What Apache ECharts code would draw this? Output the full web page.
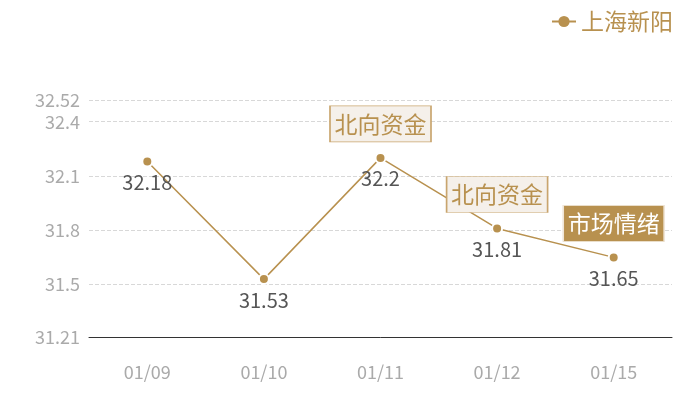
<!DOCTYPE html>
<html>
<head>
<meta charset="utf-8">
<script src="https://cdn.jsdelivr.net/npm/echarts@6/dist/echarts.min.js"></script>
<style>
  html, body { margin: 0; padding: 0; background: #fff; }
  #chart { width: 700px; height: 400px; }
</style>
</head>
<body>
<div id="chart"></div>
<script>
var dates = ['01/09', '01/10', '01/11', '01/12', '01/15'];
var prices = [32.18, 31.53, 32.2, 31.81, 31.65];
var yMin = 31.21;
var yMax = 32.52;
// event tags: [date, price, text, filled]
var tags = [
    ['01/11', 32.2, '北向资金', false],
    ['01/12', 31.81, '北向资金', false],
    ['01/15', 31.65, '市场情绪', true]
];

var gold = '#b8914f';

function tagPoint(t) {
    return {
        coord: [t[0], t[1]],
        value: t[2],
        itemStyle: {
            color: t[3] ? gold : '#f5f0ea',
            borderColor: t[3] ? '#f0e6d8' : '#c9a56e',
            borderWidth: 1
        },
        label: {
            color: t[3] ? '#fff' : gold
        }
    };
}

var chart = echarts.init(document.getElementById('chart'));
var option = {
    animation: false,
    textStyle: { fontFamily: '"Noto Sans CJK SC", "Noto Sans", sans-serif' },
    legend: {
        top: 5,
        right: 22,
        itemWidth: 24,
        itemHeight: 14,
        itemGap: 6,
        itemStyle: { borderWidth: 0 },
        textStyle: { color: gold, fontSize: 23 },
        data: ['上海新阳']
    },
    grid: {
        left: 89,
        right: 28,
        top: 100,
        bottom: 63,
        containLabel: false
    },
    xAxis: {
        type: 'category',
        boundaryGap: true,
        data: dates,
        axisLine: { lineStyle: { color: '#333', width: 1 } },
        axisTick: { show: false },
        axisLabel: { color: '#aaa', fontSize: 18, margin: 26 }
    },
    yAxis: {
        type: 'value',
        min: yMin,
        max: yMax,
        splitNumber: 5,
        axisLine: { show: false },
        axisTick: { show: false },
        axisLabel: { color: '#aaa', fontSize: 18, margin: 9 },
        splitLine: { lineStyle: { color: '#d8d8d8', type: 'dashed' } }
    },
    series: [{
        name: '上海新阳',
        type: 'line',
        data: prices,
        symbol: 'circle',
        symbolSize: 10,
        itemStyle: { color: gold, borderColor: '#fff', borderWidth: 2 },
        lineStyle: { color: gold, width: 1.5 },
        label: {
            show: true,
            position: 'bottom',
            distance: 5,
            color: '#555',
            fontSize: 20
        },
        markPoint: {
            symbol: 'rect',
            symbolSize: [101, 36],
            symbolOffset: [0, -34],
            label: {
                show: true,
                position: 'inside',
                fontSize: 23,
                formatter: function (p) { return p.value; }
            },
            data: tags.map(tagPoint)
        }
    }]
};
chart.setOption(option);
</script>
</body>
</html>
